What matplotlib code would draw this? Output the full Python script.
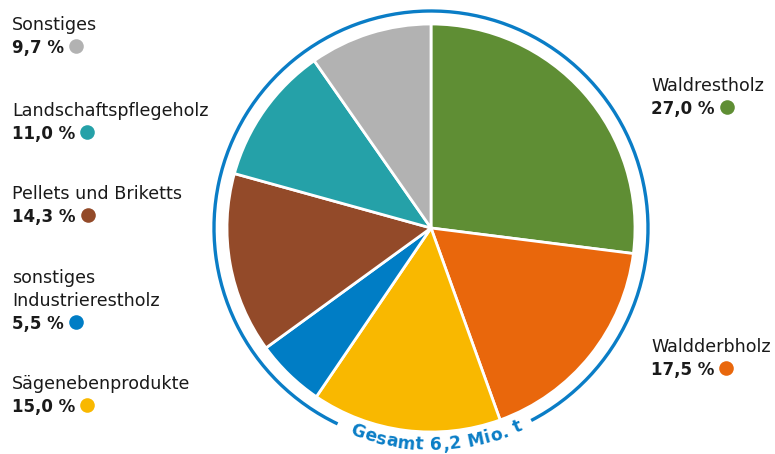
import numpy as np
import matplotlib.pyplot as plt
from matplotlib.patches import Arc

plt.rcParams['font.family'] = ['DejaVu Sans']

# Anteile der Holzsortimente (im Uhrzeigersinn ab 12 Uhr)
labels = ['Waldrestholz', 'Waldderbholz', 'Sägenebenprodukte',
          'sonstiges\nIndustrierestholz', 'Pellets und Briketts',
          'Landschaftspflegeholz', 'Sonstiges']
anteile = [27.0, 17.5, 15.0, 5.5, 14.3, 11.0, 9.7]
farben = ['#5f8e34', '#e9670c', '#f9b800', '#007dc5', '#934a29', '#25a1a8', '#b2b2b2']
gesamt_text = 'Gesamt 6,2 Mio. t'

# Beschriftungspositionen (x, Grundlinie erste Zeile) in Pixeln von oben
label_pos = [(651, 91), (651, 352), (12, 389), (12, 283), (12, 199), (12, 116), (12, 30)]

W, H = 775, 454
fig = plt.figure(figsize=(W / 100, H / 100), dpi=100)
ax = fig.add_axes([0, 0, 1, 1])

cx, cy, r = 431, H - 228, 204
ax.pie(anteile, colors=farben, startangle=90, counterclock=False,
       center=(cx, cy), radius=r,
       wedgeprops=dict(edgecolor='white', linewidth=2))
ax.set_xlim(0, W)
ax.set_ylim(0, H)
ax.set_aspect('equal')
ax.axis('off')

blau = '#0a7dc6'
r_ring = 217
ax.add_patch(Arc((cx, cy), 2 * r_ring, 2 * r_ring, theta1=-62.5, theta2=244.5,
                 color=blau, lw=2.4))

fig.canvas.draw()
renderer = fig.canvas.get_renderer()

line_h = 23
for name, wert, farbe, (x, y) in zip(labels, anteile, farben, label_pos):
    zeilen = name.split('\n')
    for j, z in enumerate(zeilen):
        ax.text(x, H - (y + j * line_h), z, fontsize=12.6, va='baseline', ha='left',
                color='#1a1a1a')
    yb = H - (y + len(zeilen) * line_h)
    t = ax.text(x, yb, f'{wert:.1f} %'.replace('.', ','), fontsize=12,
                fontweight='bold', va='baseline', ha='left', color='#1a1a1a')
    bb = t.get_window_extent(renderer)
    ax.plot(bb.x1 + 12, yb + 7, 'o', ms=10.5, color=farbe, mec='none')


# Gesamtmenge entlang des Rings unten
def breite(s, **kw):
    tt = ax.text(0, 0, s, **kw)
    w = tt.get_window_extent(renderer).width
    tt.remove()
    return w


kw = dict(fontsize=12.3, fontweight='bold')
basis = breite('aa', **kw)
breiten = [breite('a' + c + 'a', **kw) - basis for c in gesamt_text]
sperrung = 0.5
gesamt_len = sum(breiten) + sperrung * (len(breiten) - 1)
r_text = 222
theta_c = np.radians(-88.5)
s = -gesamt_len / 2
for c, w in zip(gesamt_text, breiten):
    th = theta_c + (s + w / 2) / r_text
    ax.text(cx + r_text * np.cos(th), cy + r_text * np.sin(th), c,
            rotation=np.degrees(th) + 90, rotation_mode='anchor',
            ha='center', va='baseline', color=blau, **kw)
    s += w + sperrung

fig.savefig('out.png', dpi=100)
